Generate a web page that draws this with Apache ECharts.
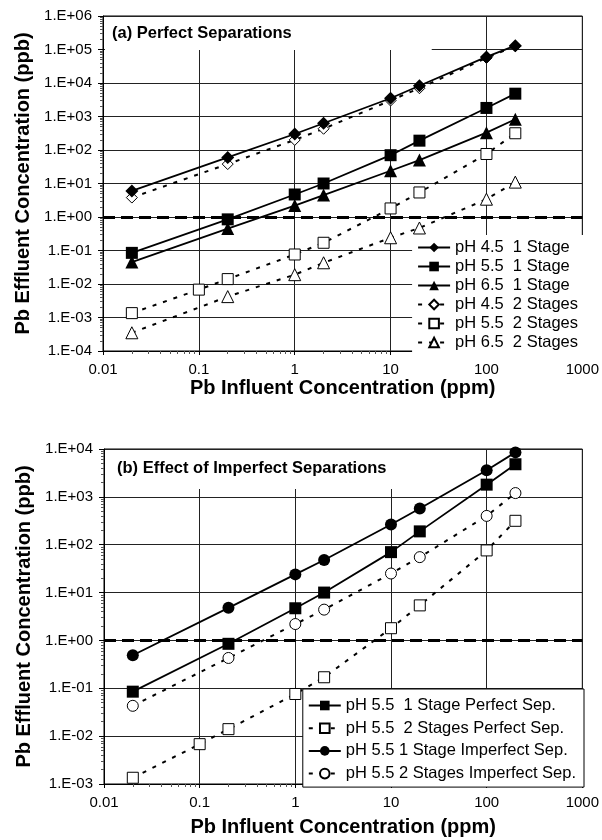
<!DOCTYPE html>
<html>
<head>
<meta charset="utf-8">
<script src="https://cdn.jsdelivr.net/npm/echarts@6/dist/echarts.min.js"></script>
<style>
html, body { margin: 0; padding: 0; background: #fff; }
#chart { width: 602px; height: 840px; }
</style>
</head>
<body>
<div id="chart"></div>
<script>
// influent Pb (ppm)
const influent = [0.02, 0.2, 1, 2, 10, 20, 100, 200];
const influentFine = [0.02, 0.1, 0.2, 1, 2, 10, 20, 100, 200];

// effluent Pb (ppb)
const ph45OneStage = [6, 60, 300, 630, 3500, 8300, 60000, 130000];
const ph55OneStage = [0.085, 0.85, 4.7, 10, 70, 190, 1800, 4800];
const ph65OneStage = [0.045, 0.45, 2.2, 4.5, 24, 50, 330, 830];
const ph45TwoStages = [3.8, 38, 200, 430, 3000, 7000, 56000, 125000];
const ph55TwoStages = [0.00135, 0.0068, 0.014, 0.076, 0.17, 1.8, 5.4, 76, 316];
const ph65TwoStages = [0.00035, 0.0042, 0.019, 0.043, 0.24, 0.47, 3.4, 11];
const ph55OneStageImperfect = [0.49, 4.8, 24, 48, 265, 570, 3600, 8500];
const ph55TwoStagesImperfect = [0.043, 0.43, 2.2, 4.4, 25, 55, 400, 1200];

const threshold = 1;

const xTickLabels = ['0.01', '0.1', '1', '10', '100', '1000'];
const yTickLabelsA = ['1.E-04', '1.E-03', '1.E-02', '1.E-01', '1.E+00', '1.E+01', '1.E+02', '1.E+03', '1.E+04', '1.E+05', '1.E+06'];
const yTickLabelsB = ['1.E-03', '1.E-02', '1.E-01', '1.E+00', '1.E+01', '1.E+02', '1.E+03', '1.E+04'];

const namesA = ['pH 4.5  1 Stage', 'pH 5.5  1 Stage', 'pH 6.5  1 Stage',
                'pH 4.5  2 Stages', 'pH 5.5  2 Stages', 'pH 6.5  2 Stages'];
const namesB = ['pH 5.5  1 Stage Perfect Sep.', 'pH 5.5  2 Stages Perfect Sep.',
                'pH 5.5 1 Stage Imperfect Sep.', 'pH 5.5 2 Stages Imperfect Sep.'];

const FONT = 'Liberation Sans';

function pts(xs, ys) {
    return xs.map((x, i) => [x, ys[i]]);
}

function solid(name, xs, ys, symbol, size, gi) {
    return {
        name: name,
        type: 'line',
        xAxisIndex: gi,
        yAxisIndex: gi,
        data: pts(xs, ys),
        symbol: symbol,
        symbolSize: size,
        showAllSymbol: true,
        lineStyle: { color: '#000', width: 1.8 },
        itemStyle: { color: '#000' },
        z: 4
    };
}

function dashed(name, xs, ys, symbol, size, gi) {
    return {
        name: name,
        type: 'line',
        xAxisIndex: gi,
        yAxisIndex: gi,
        data: pts(xs, ys),
        symbol: symbol,
        symbolSize: size,
        showAllSymbol: true,
        lineStyle: { color: '#000', width: 2, type: [4, 7] },
        itemStyle: { color: '#fff', borderColor: '#000', borderWidth: 1 },
        z: 3
    };
}

function xAxis(gi, gap) {
    return {
        type: 'log',
        logBase: 10,
        gridIndex: gi,
        min: 0.01,
        max: 1000,
        splitNumber: 5,
        name: 'Pb Influent Concentration (ppm)',
        nameLocation: 'middle',
        nameGap: gap,
        nameTextStyle: { fontFamily: FONT, fontWeight: 'bold', fontSize: 20, color: '#000' },
        axisLine: { show: true, lineStyle: { color: '#000', width: 1 } },
        axisTick: { show: true, length: 4, lineStyle: { color: '#000' } },
        minorTick: { show: true, splitNumber: 9, length: 3, lineStyle: { color: '#555' } },
        axisLabel: {
            fontFamily: FONT, fontSize: 15, color: '#000', margin: 11,
            formatter: v => xTickLabels[Math.round(Math.log10(v)) + 2]
        },
        splitLine: { show: true, lineStyle: { color: '#222', width: 1 } }
    };
}

function yAxis(gi, min, max, labels, minExp) {
    return {
        type: 'log',
        logBase: 10,
        gridIndex: gi,
        min: min,
        max: max,
        splitNumber: labels.length - 1,
        name: 'Pb Effluent Concentration (ppb)',
        nameLocation: 'middle',
        nameGap: 70,
        nameRotate: 90,
        nameTextStyle: { fontFamily: FONT, fontWeight: 'bold', fontSize: 20, color: '#000' },
        axisLine: { show: true, lineStyle: { color: '#000', width: 1 } },
        axisTick: { show: true, length: 5, lineStyle: { color: '#000' } },
        minorTick: { show: true, splitNumber: 9, length: 3, lineStyle: { color: '#555' } },
        axisLabel: {
            fontFamily: FONT, fontSize: 15, color: '#000', margin: 11,
            formatter: v => labels[Math.round(Math.log10(v)) - minExp]
        },
        splitLine: { show: true, lineStyle: { color: '#222', width: 1 } }
    };
}

const thresholdLine = {
    silent: true,
    symbol: 'none',
    label: { show: false },
    lineStyle: { color: '#000', width: 3, type: [12, 6] },
    data: [{ yAxis: threshold }]
};

var chart = echarts.init(document.getElementById('chart'), null, { renderer: 'canvas' });

const seriesA = [
    solid(namesA[0], influent, ph45OneStage, 'diamond', 13, 0),
    solid(namesA[1], influent, ph55OneStage, 'rect', 12, 0),
    solid(namesA[2], influent, ph65OneStage, 'triangle', 13, 0),
    dashed(namesA[3], influent, ph45TwoStages, 'diamond', 11, 0),
    dashed(namesA[4], influentFine, ph55TwoStages, 'rect', 11, 0),
    dashed(namesA[5], influent, ph65TwoStages, 'triangle', 12, 0)
];
seriesA[0].markLine = thresholdLine;

const seriesB = [
    solid(namesB[0], influent, ph55OneStage, 'rect', 12, 1),
    dashed(namesB[1], influentFine, ph55TwoStages, 'rect', 11, 1),
    solid(namesB[2], influent, ph55OneStageImperfect, 'circle', 12, 1),
    dashed(namesB[3], influent, ph55TwoStagesImperfect, 'circle', 11, 1)
];
seriesB[0].markLine = thresholdLine;

const legendBase = {
    orient: 'vertical',
    right: 18,
    backgroundColor: '#fff',
    itemWidth: 32,
    itemHeight: 12,
    textStyle: { fontFamily: FONT, fontSize: 16.5, color: '#000', lineHeight: 16 },
    z: 10
};

const option = {
    animation: false,
    backgroundColor: '#fff',
    textStyle: { fontFamily: FONT, color: '#000' },
    title: [
        {
            text: '(a) Perfect Separations',
            left: 105, top: 17,
            padding: [8, 140, 8, 7],
            backgroundColor: '#fff',
            textStyle: { fontFamily: FONT, fontWeight: 'bold', fontSize: 16.5, color: '#000' }
        },
        {
            text: '(b) Effect of Imperfect Separations',
            left: 105, top: 450,
            padding: [10, 50, 12, 12],
            backgroundColor: '#fff',
            textStyle: { fontFamily: FONT, fontWeight: 'bold', fontSize: 16.5, color: '#000' }
        }
    ],
    legend: [
        Object.assign({}, legendBase, {
            data: namesA,
            top: 235,
            padding: [4, 6, 6, 5],
            itemGap: 2
        }),
        Object.assign({}, legendBase, {
            data: namesB,
            top: 689,
            padding: [8, 8, 5, 5],
            itemGap: 5.7,
            borderColor: '#000',
            borderWidth: 1
        })
    ],
    grid: [
        { left: 103, top: 16, width: 481, height: 335, show: true, borderColor: '#000', borderWidth: 1, backgroundColor: 'transparent' },
        { left: 104, top: 449, width: 480, height: 335, show: true, borderColor: '#000', borderWidth: 1, backgroundColor: 'transparent' }
    ],
    xAxis: [xAxis(0, 27), xAxis(1, 33)],
    yAxis: [
        yAxis(0, 1e-4, 1e6, yTickLabelsA, -4),
        yAxis(1, 1e-3, 1e4, yTickLabelsB, -3)
    ],
    series: seriesA.concat(seriesB)
};

chart.setOption(option);
window.addEventListener('resize', chart.resize);
</script>
</body>
</html>
